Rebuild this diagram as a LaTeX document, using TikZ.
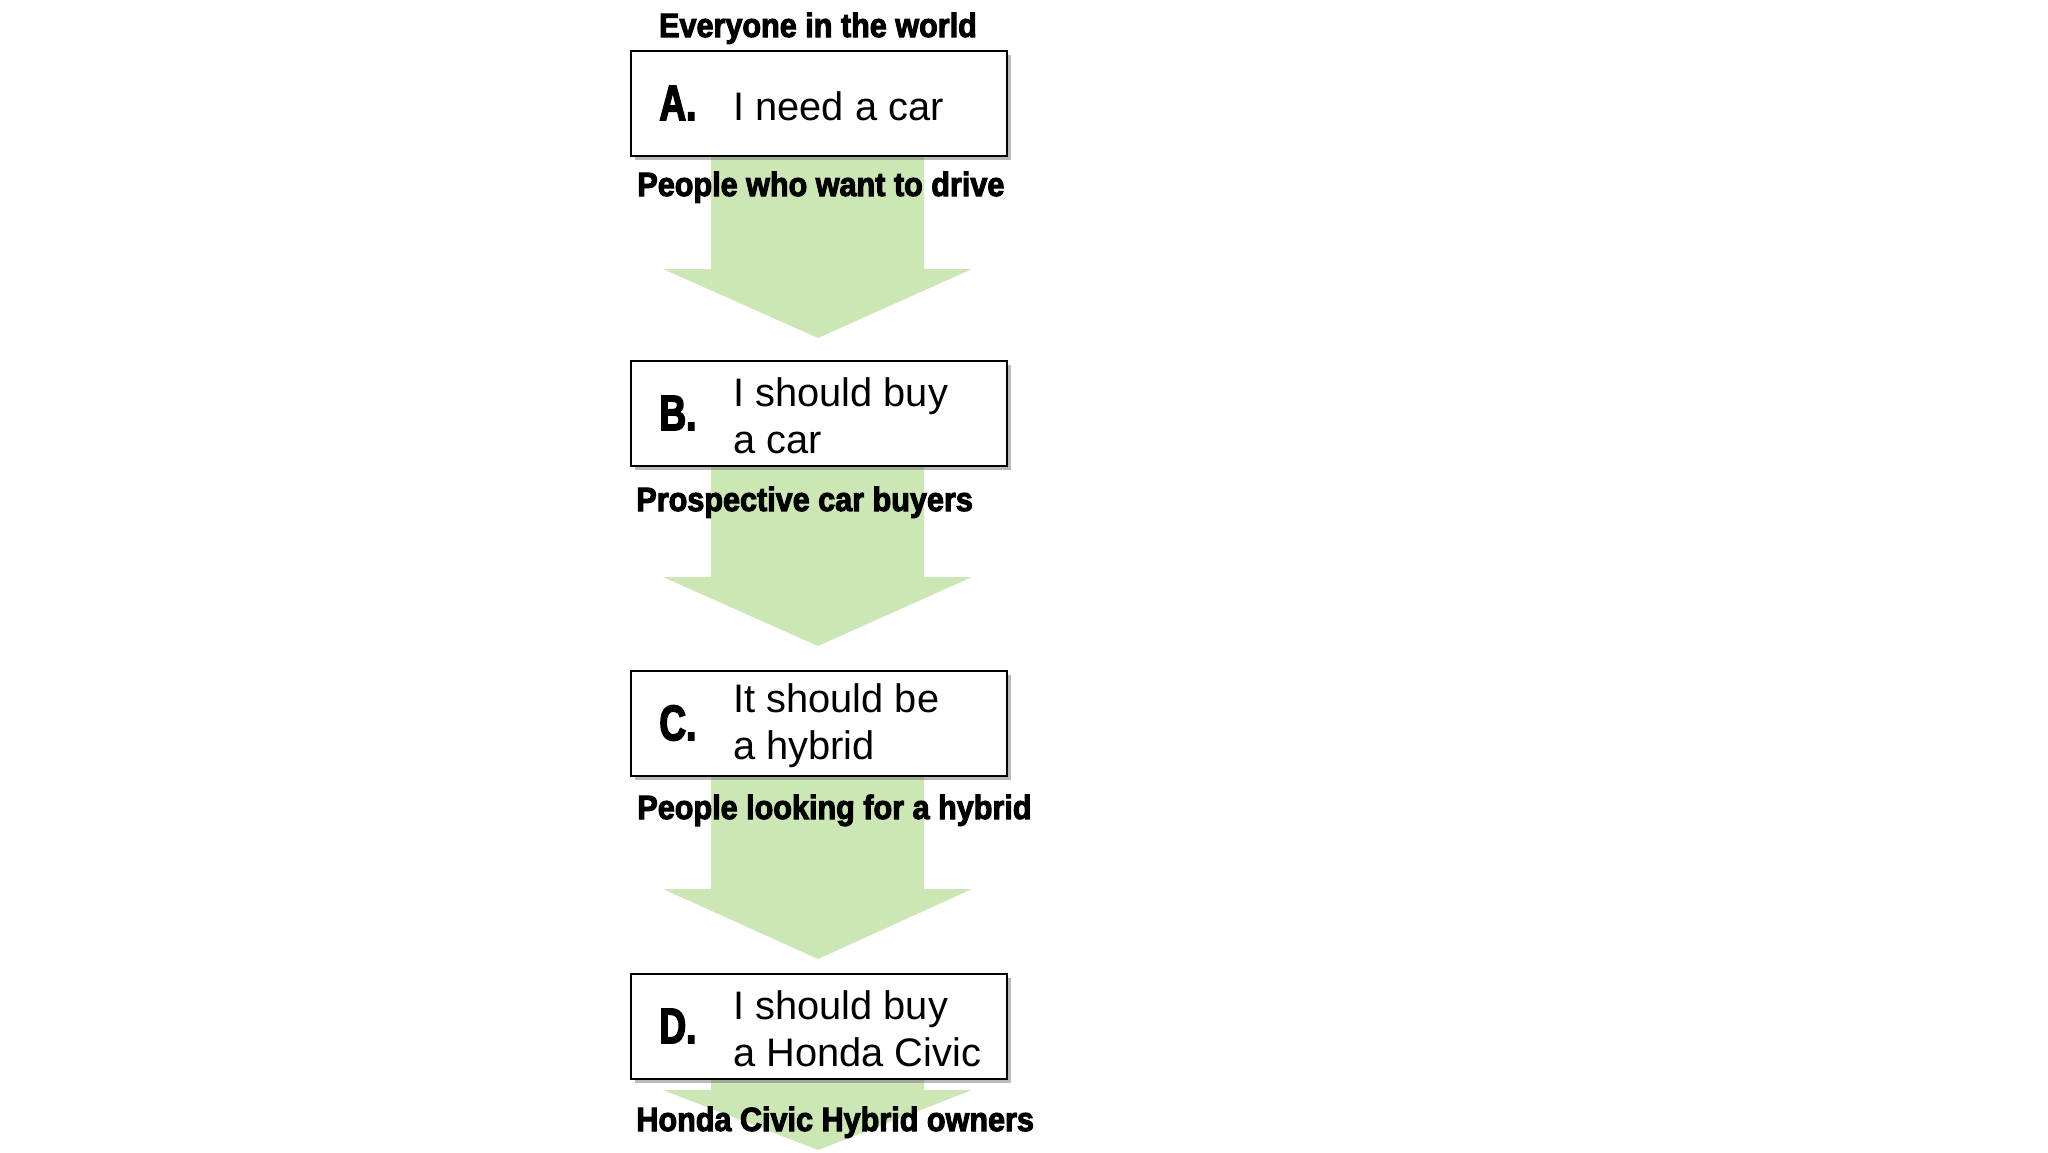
\documentclass[tikz,border=0pt]{standalone}
\usepackage{fontspec}
\setmainfont{Liberation Sans}
\newfontfamily\tagfont{Liberation Sans}[FakeStretch=0.91,FakeBold=3]
\newfontfamily\letterfont{Liberation Sans}[FakeStretch=0.74,FakeBold=3]
\usetikzlibrary{shadows}
\definecolor{arrowgreen}{RGB}{205,230,181}
\tikzset{
  stepbox/.style={draw, line width=1pt, fill=white, minimum width=188pt,
    minimum height=52.5pt, inner sep=0pt,
    drop shadow={shadow xshift=2pt, shadow yshift=-2pt, opacity=0.45, fill=black!60}},
  letter/.style={font=\letterfont\bfseries\fontsize{25}{25}\selectfont,
    inner sep=0pt, anchor=west},
  boxtext/.style={font=\fontsize{19.9}{23.5}\selectfont, align=left,
    inner sep=0pt, anchor=west},
  grouplabel/.style={font=\tagfont\bfseries\fontsize{16.8}{16.8}\selectfont,
    inner sep=0pt, anchor=base west}
}
\begin{document}
\begin{tikzpicture}[x=0.5pt,y=-0.5pt]
\useasboundingbox (0,0) rectangle (2048,1152);
% block arrows between the steps
\foreach \ystart/\yneck/\ytip in {155/269/338, 466/577/646, 776/889/959, 1079/1090/1150}
    \fill[arrowgreen] (711,\ystart) -- (924,\ystart) -- (924,\yneck) -- (972,\yneck)
        -- (818,\ytip) -- (663,\yneck) -- (711,\yneck) -- cycle;
% the four steps
\foreach \l/\y/\txt in {A/103/{I need a car}, B/413/{I should buy\\a car},
                        C/723/{It should be\\a hybrid}, D/1026/{I should buy\\a Honda Civic}}
    {\node[stepbox] (box\l) at (819,\y) {};
     \node[letter] (tag\l) at ([xshift=14.5pt]box\l.west) {\l.};
     \node[boxtext] (text\l) at ([xshift=51.5pt,yshift=-1.4pt]box\l.west) {\txt};};
% who is left after each step
\node[grouplabel, anchor=base] (world) at (818,37) {Everyone in the world};
\node[grouplabel] (drivers) at (637,196) {People who want to drive};
\node[grouplabel] (buyers) at (636,511) {Prospective car buyers};
\node[grouplabel] (hybrid) at (637,819) {People looking for a hybrid};
\node[grouplabel] (owners) at (636,1131) {Honda Civic Hybrid owners};
\end{tikzpicture}
\end{document}
